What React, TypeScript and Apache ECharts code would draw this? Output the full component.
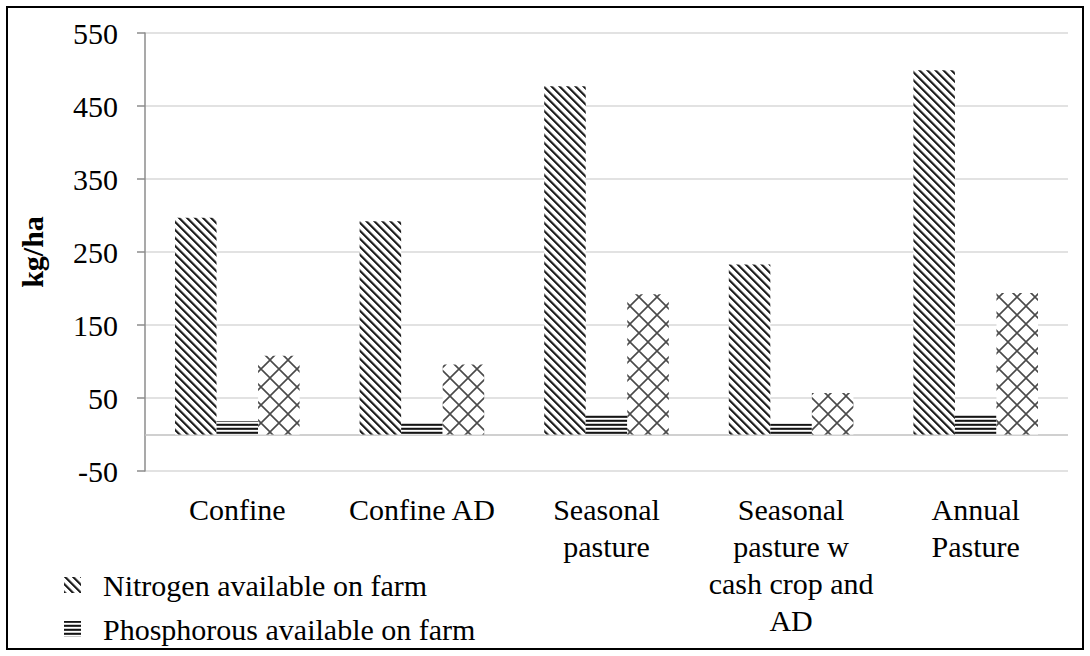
import React, { useEffect, useRef } from "react";
import * as echarts from "echarts";

// Farm scenarios along the horizontal axis
const categories: string[] = [
  "Confine",
  "Confine AD",
  "Seasonal\npasture",
  "Seasonal\npasture w\ncash crop and\nAD",
  "Annual\nPasture",
];

const seriesNames: string[] = [
  "Nitrogen available on farm",
  "Phosphorous available on farm",
  "Potassium available on farm",
];

// Nutrient availability, kg/ha
const nitrogen: number[] = [297, 292, 477, 233, 499];
const phosphorous: number[] = [18, 17, 28, 15, 28];
const potassium: number[] = [108, 96, 192, 57, 194];

const yMin = -50;
const yMax = 550;
const yStep = 100;

const FONT = "Liberation Serif";

// Wide downward diagonal hatch
function diagonalTile(): HTMLCanvasElement {
  const c = document.createElement("canvas");
  c.width = 8;
  c.height = 8;
  const ctx = c.getContext("2d")!;
  ctx.fillStyle = "#ffffff";
  ctx.fillRect(0, 0, 8, 8);
  const shades: Record<number, string> = { 0: "#4a4a4a", 1: "#141414", 2: "#4a4a4a", 3: "#b0b0b0" };
  for (let y = 0; y < 8; y++) {
    for (let x = 0; x < 8; x++) {
      const k = (((x - y) % 8) + 8) % 8;
      if (shades[k]) {
        ctx.fillStyle = shades[k];
        ctx.fillRect(x, y, 1, 1);
      }
    }
  }
  return c;
}

// Dark horizontal stripes
function horizontalTile(): HTMLCanvasElement {
  const c = document.createElement("canvas");
  c.width = 4;
  c.height = 4;
  const ctx = c.getContext("2d")!;
  const rows = ["#141414", "#3a3a3a", "#ffffff", "#c8c8c8"];
  rows.forEach((col, i) => {
    ctx.fillStyle = col;
    ctx.fillRect(0, i, 4, 1);
  });
  return c;
}

// Outlined diamond lattice
function latticeTile(): HTMLCanvasElement {
  const s = 18;
  const c = document.createElement("canvas");
  c.width = s;
  c.height = s;
  const ctx = c.getContext("2d")!;
  ctx.fillStyle = "#ffffff";
  ctx.fillRect(0, 0, s, s);
  ctx.strokeStyle = "#4a4a4a";
  ctx.lineWidth = 1.6;
  for (const d of [-s, 0, s]) {
    ctx.beginPath();
    ctx.moveTo(d, 0);
    ctx.lineTo(d + s, s);
    ctx.moveTo(d + s, 0);
    ctx.lineTo(d, s);
    ctx.stroke();
  }
  return c;
}

function pattern(canvas: HTMLCanvasElement) {
  return {
    image: canvas,
    repeat: "repeat",
    imageWidth: canvas.width,
    imageHeight: canvas.height,
  } as any;
}

export default function App() {
  const ref = useRef<HTMLDivElement>(null);

  useEffect(() => {
    if (!ref.current) return;
    const chart = echarts.init(ref.current, null, { renderer: "svg" });

    const fills = [pattern(diagonalTile()), pattern(horizontalTile()), pattern(latticeTile())];
    const values = [nitrogen, phosphorous, potassium];

    chart.setOption({
      animation: false,
      backgroundColor: "#ffffff",
      textStyle: { fontFamily: FONT },
      grid: { left: 145, right: 22, top: 33, bottom: 185, containLabel: false },
      graphic: [
        {
          type: "rect",
          shape: { x: 7, y: 7, width: 1076, height: 642 },
          style: { fill: "none", stroke: "#000000", lineWidth: 2 },
          silent: true,
        },
      ],
      legend: {
        orient: "vertical",
        left: 59,
        top: 565,
        itemWidth: 17,
        itemHeight: 16,
        itemGap: 14,
        icon: "rect",
        data: [seriesNames[0], seriesNames[1]],
        textStyle: {
          fontFamily: FONT,
          fontSize: 30,
          color: "#000000",
          lineHeight: 30,
          padding: [0, 0, 0, 17],
        },
      },
      xAxis: {
        type: "category",
        data: categories,
        axisLine: { show: false, onZero: false },
        axisTick: { show: false },
        splitLine: { show: false },
        axisLabel: {
          fontFamily: FONT,
          fontSize: 30,
          lineHeight: 37,
          color: "#000000",
          margin: 20,
          interval: 0,
          align: "center",
        },
      },
      yAxis: {
        type: "value",
        min: yMin,
        max: yMax,
        interval: yStep,
        name: "kg/ha",
        nameLocation: "middle",
        nameRotate: 90,
        nameGap: 98,
        nameTextStyle: {
          fontFamily: FONT,
          fontSize: 30,
          fontWeight: "bold",
          color: "#000000",
        },
        axisLine: { show: true, lineStyle: { color: "#8c8c8c", width: 1.5 } },
        axisTick: { show: true, inside: false, length: 8, lineStyle: { color: "#8c8c8c", width: 1.5 } },
        axisLabel: { fontFamily: FONT, fontSize: 30, color: "#000000", margin: 27 },
        splitLine: { show: true, lineStyle: { color: "#d9d9d9", width: 1.5 } },
      },
      series: values.map((vals, i) => ({
        name: seriesNames[i],
        type: "bar",
        data: vals,
        barGap: "0%",
        barCategoryGap: "32.5%",
        itemStyle: { color: fills[i] },
        emphasis: { disabled: true },
        ...(i === 0
          ? {
              markLine: {
                silent: true,
                symbol: ["none", "none"],
                label: { show: false },
                lineStyle: { color: "#c0c0c0", width: 1.5, type: "solid" },
                data: [{ yAxis: 0 }],
                z: 1,
              },
            }
          : {}),
      })),
    });

    return () => chart.dispose();
  }, []);

  return (
    <div
      ref={ref}
      style={{ position: "absolute", left: 0, top: 0, width: 1090, height: 656, background: "#ffffff" }}
    />
  );
}
